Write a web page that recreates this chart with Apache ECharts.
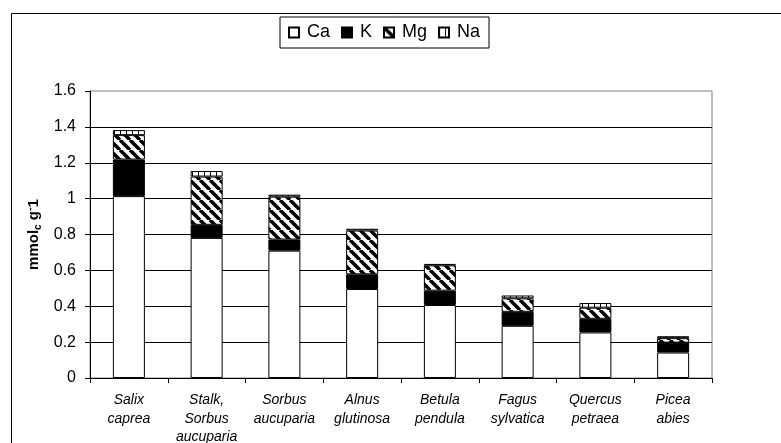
<!DOCTYPE html>
<html>
<head>
<meta charset="utf-8">
<script src="https://cdn.jsdelivr.net/npm/echarts@6/dist/echarts.min.js"></script>
<style>html,body{margin:0;padding:0;background:#fff}#c{width:781px;height:443px}</style>
</head>
<body>
<div id="c"></div>
<script>
const categories = ['Salix\ncaprea', 'Stalk,\nSorbus\naucuparia', 'Sorbus\naucuparia', 'Alnus\nglutinosa', 'Betula\npendula', 'Fagus\nsylvatica', 'Quercus\npetraea', 'Picea\nabies'];
const caValues = [1.014, 0.781, 0.710, 0.496, 0.407, 0.291, 0.254, 0.142];
const kValues  = [0.204, 0.073, 0.062, 0.082, 0.080, 0.078, 0.076, 0.055];
const mgValues = [0.136, 0.269, 0.239, 0.244, 0.141, 0.075, 0.062, 0.025];
const naValues = [0.028, 0.031, 0.011, 0.010, 0.008, 0.016, 0.026, 0.011];
const yTicks = [0, 0.2, 0.4, 0.6, 0.8, 1, 1.2, 1.4, 1.6];

function mgPattern() {
  const c = document.createElement('canvas');
  c.width = 10; c.height = 10;
  const g = c.getContext('2d');
  g.fillStyle = '#fff'; g.fillRect(0, 0, 10, 10);
  g.strokeStyle = '#000'; g.lineWidth = 3.5;
  for (let k = -20; k <= 20; k += 10) {
    g.beginPath(); g.moveTo(k, 0); g.lineTo(k + 10, 10); g.stroke();
  }
  return { image: c, repeat: 'repeat' };
}
function naPattern() {
  const c = document.createElement('canvas');
  c.width = 6; c.height = 4;
  const g = c.getContext('2d');
  g.fillStyle = '#fff'; g.fillRect(0, 0, 6, 4);
  g.fillStyle = '#000'; g.fillRect(0, 0, 1, 4);
  return { image: c, repeat: 'repeat' };
}

const font = "'Liberation Sans', Arial, sans-serif";
const chart = echarts.init(document.getElementById('c'), null, { renderer: 'canvas' });
function mk(name, data, color) {
  return {
    name, type: 'bar', stack: 'total', data, barWidth: 32,
    itemStyle: { color, borderColor: '#000', borderWidth: 1 },
    emphasis: { disabled: true }
  };
}
chart.setOption({
  animation: false,
  backgroundColor: '#fff',
  textStyle: { fontFamily: font },
  graphic: [{
    type: 'rect', shape: { x: 11.5, y: 13.5, width: 900, height: 600 },
    style: { fill: 'none', stroke: '#000', lineWidth: 1 }, silent: true, z: -10
  }],
  legend: {
    left: 280, top: 17,
    padding: [6, 9, 6, 8],
    borderColor: '#000', borderWidth: 1,
    itemWidth: 10, itemHeight: 10, itemGap: 11,
    icon: 'rect',
    textStyle: { fontSize: 18, lineHeight: 19, color: '#000', fontFamily: font, padding: [0, 0, 0, 3] },
    data: ['Ca', 'K', 'Mg', 'Na']
  },
  grid: { left: 90, right: 69, top: 91, bottom: 65, outerBoundsMode: 'none', containLabel: false, show: true, borderColor: '#808080', borderWidth: 1, backgroundColor: 'transparent' },
  xAxis: {
    type: 'category', data: categories,
    axisLine: { lineStyle: { color: '#000', width: 1 } },
    axisTick: { show: true, length: 5, lineStyle: { color: '#000' } },
    axisLabel: { interval: 0, color: '#000', fontStyle: 'italic', fontSize: 14, lineHeight: 18.5, margin: 13, fontFamily: font }
  },
  yAxis: {
    type: 'value', min: 0, max: 1.6, interval: 0.2,
    name: '{a|mmol}{s|c}{a| g}{p|-}{a|1}',
    nameLocation: 'middle', nameRotate: 90, nameGap: 47,
    nameTextStyle: {
      rich: {
        a: { fontSize: 15, fontWeight: 'bold', color: '#000', fontFamily: font, lineHeight: 18 },
        s: { fontSize: 10, fontWeight: 'bold', color: '#000', fontFamily: font, verticalAlign: 'bottom', lineHeight: 18, padding: [4, 0, 0, 0] },
        p: { fontSize: 11, fontWeight: 'bold', color: '#000', fontFamily: font, verticalAlign: 'top', lineHeight: 18, padding: [0, 0, 6, 0] }
      }
    },
    axisLine: { show: true, lineStyle: { color: '#000', width: 1 } },
    axisTick: { show: true, length: 5, lineStyle: { color: '#000' } },
    axisLabel: { color: '#000', fontSize: 16, margin: 14, fontFamily: font, formatter: v => String(+v.toFixed(1)) },
    splitLine: { show: true, showMaxLine: false, lineStyle: { color: '#000', width: 1 } }
  },
  series: [
    mk('Ca', caValues, '#fff'),
    mk('K', kValues, '#000'),
    mk('Mg', mgValues, mgPattern()),
    mk('Na', naValues, naPattern())
  ]
});
</script>
</body>
</html>
